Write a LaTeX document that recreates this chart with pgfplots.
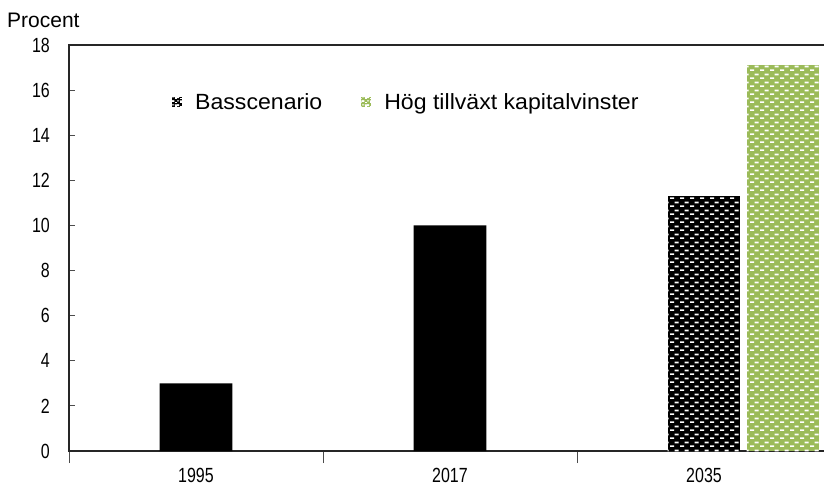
\documentclass[border=0pt]{standalone}
\usepackage{pgfplots}
\pgfplotsset{compat=1.18}
\usepackage{fontspec}
\setmainfont{Liberation Sans}
\newfontfamily\narrowfont[FakeStretch=0.78]{Liberation Sans}
\newfontfamily\legfont[FakeStretch=1.05]{Liberation Sans}
\usetikzlibrary{patterns}
\definecolor{barblack}{HTML}{000000}
\definecolor{bargreen}{HTML}{9BBB59}
\pgfdeclarepatternformonly{dashbricks}{\pgfqpoint{0bp}{0bp}}{\pgfqpoint{10bp}{8.2bp}}{\pgfqpoint{10bp}{8.2bp}}{%
  \pgfpathrectangle{\pgfqpoint{0bp}{0bp}}{\pgfqpoint{4.5bp}{1.8bp}}%
  \pgfpathrectangle{\pgfqpoint{5bp}{4.1bp}}{\pgfqpoint{4.5bp}{1.8bp}}%
  \pgfusepath{fill}%
}
\pgfdeclarepatternformonly{smallbricks}{\pgfqpoint{0bp}{0bp}}{\pgfqpoint{5bp}{4bp}}{\pgfqpoint{5bp}{4bp}}{%
  \pgfpathrectangle{\pgfqpoint{0bp}{0bp}}{\pgfqpoint{2.2bp}{1bp}}%
  \pgfpathrectangle{\pgfqpoint{2.5bp}{2bp}}{\pgfqpoint{2.2bp}{1bp}}%
  \pgfusepath{fill}%
}
\pgfplotstableread{
x y
0 3.0
1 10.0
}\histdata
\pgfplotstableread{
x y
2 11.3
}\basdata
\pgfplotstableread{
x y
2.311 17.1
}\hogdata
\begin{document}
\begin{tikzpicture}
\begin{axis}[
  name=ax,
  at={(0,0)}, anchor=south west,
  scale only axis,
  width=762bp, height=406bp,
  xmin=-0.5, xmax=2.5,
  ymin=0, ymax=18,
  ytick={0,2,...,18},
  xtick={-0.5,0.5,1.5,2.5},
  x tick label as interval,
  xticklabels={1995,2017,2035},
  xtick pos=bottom, ytick pos=left,
  xtick align=center, ytick align=inside,
  xtick style={/pgfplots/major tick length=12bp, color=black!70, line width=1bp},
  ytick style={/pgfplots/major tick length=6bp, color=black!70, line width=1bp},
  axis line style={line width=1.2bp, color=black!85},
  /pgf/number format/assume math mode=true,
  tick label style={font=\narrowfont\fontsize{20.5bp}{23bp}\selectfont, inner sep=0pt},
  yticklabel style={xshift=-19bp},
  xticklabel style={yshift=-12.5bp},
  ybar, bar width=0.287,
  legend columns=2,
  legend style={at={(axis cs:-0.0945,15.47)}, anchor=west, draw=none, fill=none,
    inner sep=0pt, nodes={inner sep=0pt},
    font=\legfont\fontsize{22bp}{24bp}\selectfont,
    /tikz/every odd column/.append style={column sep=13bp},
    /tikz/every even column/.append style={column sep=39bp}},
]
\addplot[forget plot, bar shift=0pt, draw=none, fill=barblack]
  table[x=x,y=y] {\histdata};
\addplot[bar shift=0pt, draw=none, fill=barblack, postaction={pattern=dashbricks, pattern color=white},
  legend image code/.code={\path[fill=barblack,postaction={pattern=smallbricks, pattern color=white}] (0bp,-5bp) rectangle (10bp,5bp);}]
  table[x=x,y=y] {\basdata};
\addlegendentry{Basscenario}
\addplot[bar shift=0pt, draw=none, fill=bargreen, postaction={pattern=dashbricks, pattern color=white},
  legend image code/.code={\path[fill=bargreen,postaction={pattern=smallbricks, pattern color=white}] (0bp,-5bp) rectangle (10bp,5bp);}]
  table[x=x,y=y] {\hogdata};
\addlegendentry{Hög tillväxt kapitalvinster}
\end{axis}
\node[anchor=base west, inner sep=0pt, font=\fontsize{21bp}{24bp}\selectfont] at ([shift={(-62bp,423bp)}]ax.south west) {Procent};
\pgfresetboundingbox
\path[use as bounding box] ([shift={(-69bp,-36bp)}]ax.south west) rectangle ([shift={(755bp,451bp)}]ax.south west);
\end{tikzpicture}
\end{document}
